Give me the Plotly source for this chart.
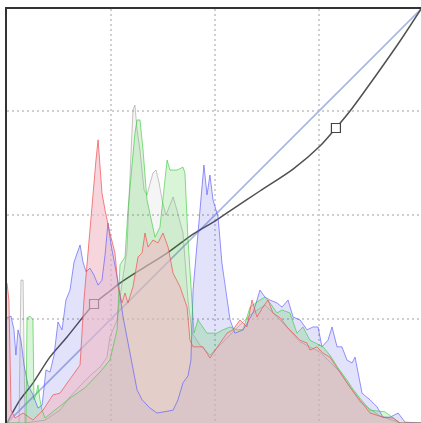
import plotly.graph_objects as go

# histogram heights in % of plot height, levels 0-255
red_levels = [0, 1.2, 2.5, 4.9, 9.9, 16, 22.2, 28.3, 32.6, 37, 40, 42.5, 45, 47.4, 49.9, 52.4, 54.8, 56.1,
              57.3, 58.5, 60.4, 63.4, 66.5, 68.4, 70.8, 72.7, 74.5, 77.6, 80.7, 83.2, 85, 86.9, 89.9, 93,
              96.1, 99.2, 102.3, 106.6, 110.9, 112.7, 114.6, 120.7, 125, 126.9, 131.2, 135.5, 139.2, 143.5,
              147.8, 150.9, 154, 157.7, 160.8, 163.8, 168.2, 172.5, 176.2, 180.5, 184.8, 186.6, 190.9,
              194.6, 198.9, 203.9, 209.4, 212.5, 217.4, 223.6, 231.6, 237.8, 242.1, 255]
red_counts = [33.8, 29.7, 3.1, 1.2, 2.4, 0.7, 3.1, 6.8, 7.2, 9.7, 11.1, 12.8, 14.0, 29.7, 41.8, 52.7, 63.5, 68.4,
              62.3, 55.6, 51.4, 45.9, 41.1, 32.9, 29.0, 31.4, 29.0, 32.9, 40.1, 41.1, 45.9, 42.5, 44.2, 43.5,
              45.9, 42.5, 36.2, 32.9, 28.0, 20.0, 18.4, 18.4, 15.7, 16.9, 19.3, 21.7, 22.5, 24.9,
              23.2, 29.7, 25.6, 28.0, 29.7, 26.6, 25.4, 23.2, 21.7, 20.0, 19.3, 17.6, 18.4,
              16.9, 15.9, 12.8, 9.7, 8.0, 5.6, 2.4, 1.4, 1.2, 0, 0]

green_levels = [0, 11.7, 12.3, 14.2, 16, 16.6, 17.9, 19.1, 20.3, 21.6, 23.4, 29.6, 38.8, 48, 57.3, 63.4, 67.8,
                69.6, 72.7, 74.5, 77, 78.8, 80.1, 81.9, 83.8, 86.2, 89.3, 91.2, 94.2, 97.3, 98.6, 100.4,
                104.7, 108.4, 109.6, 111.5, 114, 115.2, 117.6, 123.2, 129.4, 133, 137.4, 141.7, 145.4, 149.7,
                155.8, 158.9, 162, 166.3, 169.4, 174.3, 178.6, 182.3, 186.6, 194.6, 198.9, 203.9, 209.4,
                212.5, 217.4, 223.6, 232.8, 237.8, 242.1, 255]
green_counts = [0, 0, 25.4, 25.8, 24.9, 5.6, 6.8, 9.2, 5.6, 3.1, 1.2, 3.1, 6.0, 8.5, 12.3, 15.2, 22.5,
                38.2, 40.1, 51.4, 62.8, 70.0, 73.2, 73.2, 65.9, 53.9, 48.3, 44.9, 47.3, 58.0, 63.5, 61.1,
                61.1, 61.8, 60.4, 44.2, 29.7, 21.7, 24.9, 21.7, 21.7, 22.5, 23.2, 22.5, 22.5, 28.0,
                29.7, 30.4, 29.0, 26.6, 27.3, 26.6, 21.7, 23.2, 20.0, 18.4, 16.4, 13.3, 10.4,
                8.5, 6.0, 3.1, 2.7, 1.2, 0, 0]

blue_levels = [0, 2.5, 4.3, 5.5, 6.8, 8.6, 10.5, 12.9, 16, 19.1, 21.6, 24, 26.5, 29, 31.4, 33.9, 36.3, 38.8,
               41.3, 43.7, 45, 46.8, 48.7, 51.1, 53.6, 56.1, 58.5, 60.4, 62.2, 64.1, 66, 68.4, 71.5, 75.8,
               80.1, 83.2, 88.1, 92.4, 97.3, 102.3, 105.3, 108.4, 111.5, 113.3, 114.6, 116.4, 117.6, 119.5,
               121.3, 123.2, 125, 126.9, 130, 132.4, 134.3, 137.4, 140.4, 145.4, 148.4, 151.5, 154, 155.8,
               158.9, 162, 166.3, 169.4, 173.1, 176.2, 180.5, 184.8, 188.5, 191.6, 194, 197.7, 200.2, 203.3,
               206.3, 209.4, 212.5, 214.4, 218.7, 223.6, 227.9, 231.6, 235.9, 240.9, 245.2, 255]
blue_counts = [25.4, 25.8, 22.5, 16.4, 22.5, 20.0, 14.0, 9.2, 6.8, 3.6, 4.3, 12.8, 12.3, 16.4, 24.4, 22.5, 29.7,
               32.1, 38.9, 41.8, 43.0, 38.9, 36.5, 37.4, 35.7, 33.3, 34.5, 40.6, 48.3, 43.0, 38.9, 34.1, 25.6,
               16.9, 8.0, 5.6, 3.6, 2.4, 2.7, 3.1, 5.6, 9.7, 11.4, 15.2, 32.1, 40.6, 46.1, 55.1,
               62.3, 55.1, 59.9, 53.9, 49.8, 38.6, 32.9, 24.9, 21.7, 22.5, 24.4, 26.6, 29.7, 32.1,
               30.4, 29.7, 29.0, 28.0, 29.7, 25.6, 24.9, 22.5, 23.2, 23.2, 18.4, 20.0, 23.2, 18.4,
               18.4, 15.2, 14.5, 15.9, 7.2, 5.6, 3.9, 1.4, 1.4, 2.4, 0.2, 0]

gray_levels = [0, 7.4, 8.6, 9.9, 11.1, 23.4, 32.6, 38.8, 46.8, 53, 57.3, 61.6, 63.4, 67.8, 69.6, 71.5, 73.9,
               75.1, 76.4, 77.6, 78.8, 80.1, 81.9, 84.4, 86.2, 88.1, 89.9, 91.8, 93.6, 95.5, 97.9, 100.4,
               102.3, 104.7, 108.4, 111.5, 114, 118.9, 125, 137.4, 149.7, 158.9, 168.2, 180.5, 192.8, 205.2,
               217.4, 229.7, 242.1, 255]
gray_counts = [0, 0, 34.5, 34.5, 0, 0.7, 3.1, 6.3, 9.7, 12.1, 13.5, 15.9, 20.8, 24.9, 30.4, 35.3, 41.8,
               53.9, 65.9, 75.6, 76.8, 70.8, 65.9, 56.3, 55.1, 58.0, 60.4, 61.1, 58.2, 53.9, 50.2, 52.7,
               54.6, 51.4, 45.9, 29.7, 21.7, 18.8, 16.4, 21.3, 26.1, 28.5, 24.9, 19.6, 17.1, 12.3,
               5.1, 1.7, 0, 0]

# tone curve
curve_in = [0, 8, 16, 26.5, 37, 53.6, 63.4, 69.6, 81.9, 98.6, 114.6, 128.1, 137.4, 155.8, 176.2, 192.8,
            202.6, 211.3, 227.9, 242.1, 255]
curve_out = [0, 14.2, 24.6, 40.7, 53, 73.3, 81.3, 86.2, 94.2, 104.7, 116.4, 124.4, 130.6, 142.9, 156.4,
             170.6, 181.7, 192.2, 215, 235.3, 255]
ctrl_in = [53.6, 202.6]
ctrl_out = [73.3, 181.7]

fig = go.Figure()

# fills first (red on top, fairly strong so the overlap stays pinkish)
channels = [
    (gray_levels, gray_counts, "rgba(0,0,0,0.04)"),
    (blue_levels, blue_counts, "rgba(50,50,220,0.14)"),
    (green_levels, green_counts, "rgba(40,200,40,0.18)"),
    (red_levels, red_counts, "rgba(240,187,197,0.6)"),
]
for lv, cnt, fc in channels:
    fig.add_trace(go.Scatter(x=lv, y=cnt, yaxis="y2", mode="none", fill="tozeroy",
                             fillcolor=fc, hoverinfo="skip", showlegend=False))

outlines = [
    (gray_levels, gray_counts, "rgba(150,150,150,0.55)"),
    (blue_levels, blue_counts, "rgba(90,90,250,0.65)"),
    (green_levels, green_counts, "rgba(50,200,50,0.6)"),
    (red_levels, red_counts, "rgba(240,80,80,0.7)"),
]
for lv, cnt, lc in outlines:
    fig.add_trace(go.Scatter(x=lv, y=cnt, yaxis="y2", mode="lines",
                             line=dict(color=lc, width=1), hoverinfo="skip", showlegend=False))

fig.add_trace(go.Scatter(x=[0, 255], y=[0, 255], mode="lines",
                         line=dict(color="#a9b6e2", width=1.6), showlegend=False))
fig.add_trace(go.Scatter(x=curve_in, y=curve_out, mode="lines",
                         line=dict(color="#505050", width=1.5, shape="spline", smoothing=0.8),
                         showlegend=False))
fig.add_trace(go.Scatter(x=ctrl_in, y=ctrl_out, mode="markers",
                         marker=dict(symbol="square", size=9, color="white",
                                     line=dict(color="#444444", width=1.2)),
                         showlegend=False))

fig.update_layout(
    width=421, height=423, margin=dict(l=7, r=0, t=9, b=0),
    paper_bgcolor="white", plot_bgcolor="white",
    xaxis=dict(range=[0, 255], side="top", showline=True, linecolor="#333333", linewidth=2,
               tickvals=[64, 128, 192], showticklabels=False, ticks="",
               showgrid=True, gridcolor="#cfcfcf", gridwidth=2, griddash="2px,3px", zeroline=False),
    yaxis=dict(range=[0, 255], showline=True, linecolor="#333333", linewidth=2,
               tickvals=[64, 128, 192], showticklabels=False, ticks="",
               showgrid=True, gridcolor="#cfcfcf", gridwidth=2, griddash="2px,3px", zeroline=False),
    yaxis2=dict(range=[0, 100], overlaying="y", visible=False),
)

fig.write_html("out.html", config={"displayModeBar": False},
               post_script="document.body.style.margin = '0';")
